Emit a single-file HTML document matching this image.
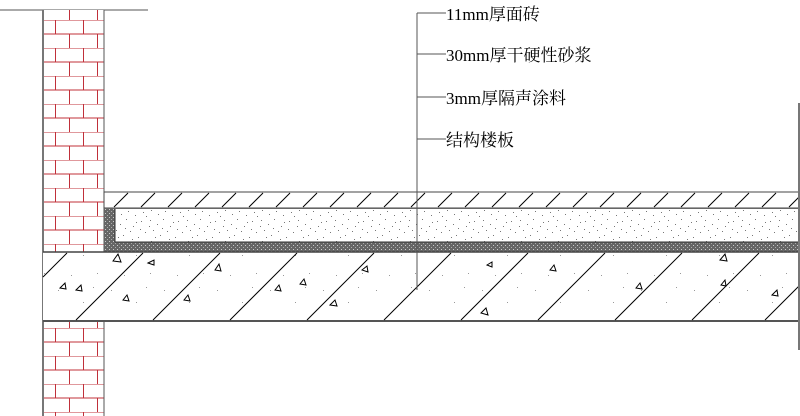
<!DOCTYPE html>
<html><head><meta charset="utf-8"><style>
html,body{margin:0;padding:0;background:#fff;width:800px;height:416px;overflow:hidden}
text{font-family:"Liberation Serif","Noto Serif CJK SC","Noto Sans CJK SC",serif;font-size:17px;fill:#000}
</style></head><body>
<svg width="800" height="416" viewBox="0 0 800 416" xmlns="http://www.w3.org/2000/svg">
<defs>
<pattern id="brick" x="55" y="20" width="28" height="28" patternUnits="userSpaceOnUse">
<rect width="28" height="28" fill="#fff"/>
<path d="M0 0H28M0 14H28M0.5 0V14M14.5 14V28" stroke="#c0303a" stroke-width="1" fill="none"/>
</pattern>
<pattern id="sand" width="37" height="31" patternUnits="userSpaceOnUse">
<rect width="37" height="31" fill="#fff"/>
<g fill="#777">
<rect x="2" y="3" width="1" height="1"/><rect x="9" y="7" width="1" height="1"/><rect x="15" y="2" width="1" height="1"/><rect x="22" y="9" width="1" height="1"/><rect x="30" y="4" width="1" height="1"/><rect x="5" y="13" width="1" height="1"/><rect x="12" y="18" width="1" height="1"/><rect x="19" y="14" width="1" height="1"/><rect x="27" y="20" width="1" height="1"/><rect x="34" y="15" width="1" height="1"/><rect x="3" y="24" width="1" height="1"/><rect x="10" y="28" width="1" height="1"/><rect x="17" y="25" width="1" height="1"/><rect x="24" y="29" width="1" height="1"/><rect x="32" y="26" width="1" height="1"/><rect x="7" y="20" width="1" height="1"/><rect x="25" y="5" width="1" height="1"/><rect x="14" y="11" width="1" height="1"/><rect x="29" y="12" width="1" height="1"/><rect x="21" y="22" width="1" height="1"/><rect x="1" y="9" width="1" height="1"/><rect x="35" y="30" width="1" height="1"/>
</g></pattern>
<pattern id="grey" width="4" height="4" patternUnits="userSpaceOnUse">
<rect width="4" height="4" fill="#666"/><rect x="1" y="1" width="1" height="1" fill="#ccc"/><rect x="3" y="3" width="1" height="1" fill="#aaa"/>
</pattern>
<pattern id="conc" width="53" height="47" patternUnits="userSpaceOnUse">
<rect width="53" height="47" fill="#fff"/>
<g fill="#999"><rect x="5" y="8" width="1" height="1"/><rect x="30" y="20" width="1" height="1"/><rect x="44" y="38" width="1" height="1"/><rect x="18" y="40" width="1" height="1"/><rect x="40" y="5" width="1" height="1"/></g>
</pattern>
</defs>
<line x1="0" y1="10" x2="148" y2="10" stroke="#555"/>
<rect x="43" y="10" width="61" height="242" fill="url(#brick)"/>
<rect x="43" y="322" width="61" height="94" fill="url(#brick)"/>
<line x1="43" y1="10" x2="43" y2="416" stroke="#777" stroke-width="2"/>
<line x1="104" y1="10" x2="104" y2="252" stroke="#555"/>
<line x1="104" y1="322" x2="104" y2="416" stroke="#555"/>
<rect x="104" y="192" width="696" height="16" fill="#fff" stroke="#444"/>
<g stroke="#000" stroke-width="1">
<path d="M114 207L128 193M141 207L155 193M168 207L182 193M195 207L209 193M222 207L236 193M249 207L263 193M276 207L290 193M303 207L317 193M330 207L344 193M357 207L371 193M384 207L398 193M411 207L425 193M438 207L452 193M465 207L479 193M492 207L506 193M519 207L533 193M546 207L560 193M573 207L587 193M600 207L614 193M627 207L641 193M654 207L668 193M681 207L695 193M708 207L722 193M735 207L749 193M762 207L776 193M789 207L800 196"/>
</g>
<rect x="104" y="208" width="696" height="44" fill="url(#grey)"/>
<rect x="115" y="209" width="685" height="33" fill="url(#sand)"/>
<line x1="115" y1="209" x2="115" y2="242" stroke="#333"/>
<line x1="115" y1="242" x2="800" y2="242" stroke="#333"/>
<rect x="43" y="252" width="757" height="69" fill="url(#conc)"/>
<line x1="43" y1="252" x2="800" y2="252" stroke="#444" stroke-width="1.5"/>
<line x1="43" y1="321" x2="800" y2="321" stroke="#555" stroke-width="2"/>
<g stroke="#000" stroke-width="1">
<path d="M43 277L67 253M76 320L143 253M153 320L220 253M230 320L297 253M307 320L374 253M384 320L451 253M461 320L528 253M538 320L605 253M615 320L682 253M692 320L759 253M765 320L800 285"/>
</g>
<g fill="#fff" stroke="#000" stroke-width="1">
<path d="M113 261l5-7 3 8z M148 263l6-3 0 5z M60 288l5-5 1 6z M76 290l5-5 1 6z M123 300l4-5 2 6z M215 270l4-6 2 7z M275 290l4-5 2 6z M300 284l4-5 2 6z M330 305l5-5 2 6z M362 270l5-4 1 6z M481 313l5-5 2 7z M487 265l5-3 0 5z M550 270l4-5 2 6z M636 288l4-5 2 6z M720 260l5-6 2 7z M721 285l4-5 1 6z M772 295l5-5 1 6z M184 300l4-5 2 6z"/>
</g>
<line x1="799" y1="103" x2="799" y2="350" stroke="#777" stroke-width="2"/>
<line x1="417" y1="13" x2="417" y2="290" stroke="#555"/>
<g stroke="#555"><line x1="417" y1="13" x2="446" y2="13"/><line x1="417" y1="54" x2="446" y2="54"/><line x1="417" y1="97" x2="446" y2="97"/><line x1="417" y1="139" x2="446" y2="139"/></g>
<text x="446" y="20">11mm厚面砖</text>
<text x="446" y="61">30mm厚干硬性砂浆</text>
<text x="446" y="104">3mm厚隔声涂料</text>
<text x="446" y="146">结构楼板</text>
</svg>
</body></html>
